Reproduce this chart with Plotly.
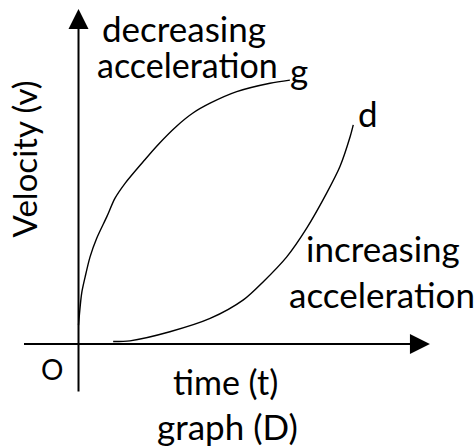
import plotly.graph_objects as go

# Curve g: decreasing acceleration (time, velocity)
g_t = [0.0, 0.09, 0.19, 0.33, 0.52, 0.81, 1.04, 1.33, 1.84, 2.24, 2.81, 3.27, 3.76, 4.52, 5.47, 6.04]
g_v = [0.54, 1.45, 1.92, 2.49, 3.02, 3.64, 4.16, 4.59, 5.2, 5.66, 6.23, 6.6, 6.88, 7.21, 7.45, 7.54]

# Curve d: increasing acceleration
d_t = [0.99, 1.47, 2.61, 3.76, 4.71, 5.28, 5.95, 6.52, 7.09, 7.47, 7.76, 7.85]
d_v = [0.07, 0.09, 0.35, 0.73, 1.26, 1.78, 2.49, 3.31, 4.31, 5.07, 5.92, 6.26]

X_RANGE = [-2.243, 11.357]
Y_RANGE = [-2.971, 9.829]

FONT = "Lato"

fig = go.Figure()
for tt, vv in ((g_t, g_v), (d_t, d_v)):
    fig.add_trace(go.Scatter(x=tt, y=vv, mode="lines",
                             line=dict(color="black", width=1.4, shape="spline", smoothing=0.8),
                             showlegend=False, hoverinfo="skip"))

anns = []
# axes with arrows
anns.append(dict(x=0, y=9.57, ax=0, ay=-1.4, xref="x", yref="y", axref="x", ayref="y",
                 showarrow=True, arrowhead=2, arrowsize=2.0, arrowwidth=2, arrowcolor="black", text=""))
anns.append(dict(x=10.04, y=0, ax=-1.6, ay=0, xref="x", yref="y", axref="x", ayref="y",
                 showarrow=True, arrowhead=2, arrowsize=2.0, arrowwidth=2, arrowcolor="black", text=""))

def txt(x, y, s, size=35, angle=0):
    anns.append(dict(x=x, y=y, xref="x", yref="y", text=s, showarrow=False, textangle=angle,
                     font=dict(family=FONT, size=size, color="black"), xanchor="center", yanchor="middle"))

txt(3.01, 9.02, "decreasing")
txt(3.1, 8.0, "acceleration", size=34)
txt(6.3, 7.83, "g")
txt(8.27, 6.6, "d")
txt(8.7, 2.75, "increasing")
txt(8.67, 1.42, "acceleration")
txt(-0.76, -0.72, "O", size=28)
txt(4.21, -1.06, "time (t)", size=34)
txt(4.27, -2.34, "graph (D)", size=35)
txt(-1.56, 5.3, "Velocity (v)", size=33, angle=-90)

fig.update_layout(
    width=476, height=448,
    margin=dict(l=0, r=0, t=0, b=0),
    paper_bgcolor="white", plot_bgcolor="white",
    xaxis=dict(range=X_RANGE, visible=False, fixedrange=True),
    yaxis=dict(range=Y_RANGE, visible=False, fixedrange=True),
    annotations=anns,
)
fig.write_html("out.html", config={"displayModeBar": False},
               post_script="document.body.style.margin='0';document.body.style.overflow='hidden';")
